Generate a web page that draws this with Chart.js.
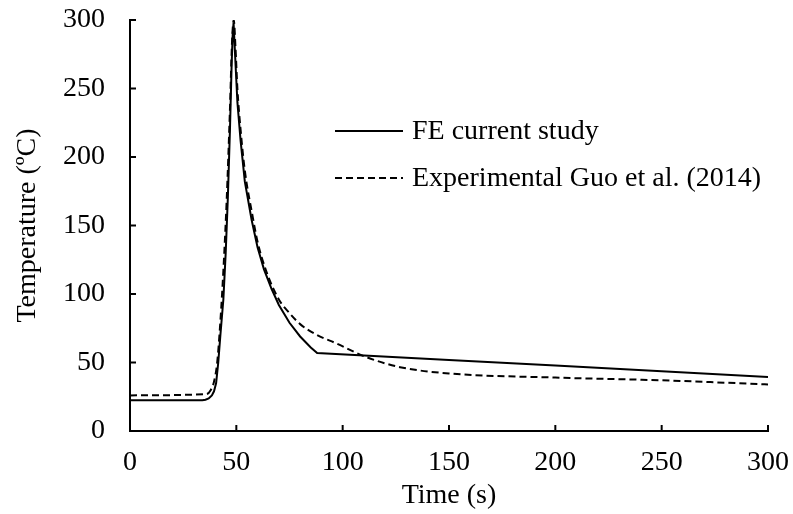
<!DOCTYPE html>
<html>
<head>
<meta charset="utf-8">
<script src="https://cdn.jsdelivr.net/npm/chart.js@4.4.1/dist/chart.umd.min.js"></script>
<style>
  html, body { margin: 0; padding: 0; background: #fff; }
  #wrap { width: 793px; height: 514px; }
</style>
</head>
<body>
<div id="wrap"><canvas id="chart" width="793" height="514"></canvas></div>
<script>
// FE current study
const feTime = [0, 34, 35.5, 37, 38.5, 39.5, 40.5, 41.5, 42.5, 43.9, 45, 46, 47, 47.8, 48.3, 48.7, 49.4, 50.5, 52, 54, 57.2, 60, 63, 66.5, 70, 75, 80, 85, 88, 150, 200, 250, 300];
const feTemp = [22.5, 22.5, 22.8, 23.8, 26, 29, 35, 50, 70, 96, 130, 170, 220, 268, 290, 298, 275, 240, 212, 182, 154, 134, 118, 104, 92, 79, 69, 61, 57, 51.9, 47.8, 43.6, 39.5];

// Experimental Guo et al. (2014)
const expTime = [0, 36, 38, 39.5, 41, 42.5, 44, 45.5, 47, 48, 48.8, 49.6, 50.5, 52, 54, 57.5, 60, 64, 70, 75, 80, 88, 97, 111, 127, 150, 200, 250, 300];
const expTemp = [26, 27, 30, 36, 50, 80, 120, 170, 235, 285, 300, 280, 250, 220, 190, 158, 138, 117, 96, 86, 78, 70, 64, 54, 46.6, 42, 39, 37, 34];

const xTicks = [0, 50, 100, 150, 200, 250, 300];
const yTicks = [0, 50, 100, 150, 200, 250, 300];

const FONT = 'Liberation Serif, Times New Roman, serif';
const FSIZE = 28;

const toPoints = (xs, ys) => xs.map((x, i) => ({ x, y: ys[i] }));

// ticks pointing into the plot, like the original
const innerTicks = {
  id: 'innerTicks',
  afterDraw(chart) {
    const { ctx, chartArea, scales } = chart;
    ctx.save();
    ctx.strokeStyle = '#000';
    ctx.lineWidth = 2;
    xTicks.forEach(v => {
      const px = scales.x.getPixelForValue(v);
      ctx.beginPath();
      ctx.moveTo(px, chartArea.bottom);
      ctx.lineTo(px, chartArea.bottom - 6);
      ctx.stroke();
    });
    yTicks.forEach(v => {
      const py = scales.y.getPixelForValue(v);
      ctx.beginPath();
      ctx.moveTo(chartArea.left, py);
      ctx.lineTo(chartArea.left + 6, py);
      ctx.stroke();
    });
    ctx.restore();
  }
};

// legend drawn inside the plot
const insideLegend = {
  id: 'insideLegend',
  afterDraw(chart) {
    const { ctx } = chart;
    const rows = [131, 178];
    ctx.save();
    ctx.font = FSIZE + 'px ' + FONT;
    ctx.fillStyle = '#000';
    ctx.textBaseline = 'middle';
    chart.data.datasets.forEach((ds, i) => {
      const y = rows[i];
      ctx.strokeStyle = ds.borderColor;
      ctx.lineWidth = ds.borderWidth;
      ctx.setLineDash(ds.borderDash || []);
      ctx.beginPath();
      ctx.moveTo(335, y);
      ctx.lineTo(403, y);
      ctx.stroke();
      ctx.setLineDash([]);
      ctx.fillText(ds.label, 412, y + 1);
    });
    ctx.restore();
  }
};

new Chart(document.getElementById('chart'), {
  type: 'scatter',
  data: {
    datasets: [
      {
        label: 'FE current study',
        data: toPoints(feTime, feTemp),
        showLine: true,
        borderColor: '#000',
        borderWidth: 2,
        pointRadius: 0,
        tension: 0
      },
      {
        label: 'Experimental Guo et al. (2014)',
        data: toPoints(expTime, expTemp),
        showLine: true,
        borderColor: '#000',
        borderWidth: 2,
        borderDash: [7, 4],
        pointRadius: 0,
        cubicInterpolationMode: 'monotone'
      }
    ]
  },
  options: {
    responsive: false,
    animation: false,
    layout: { autoPadding: false, padding: { top: 20, right: 25, left: 0, bottom: 0 } },
    plugins: { legend: { display: false }, tooltip: { enabled: false } },
    scales: {
      x: {
        type: 'linear',
        min: 0,
        max: 300,
        afterBuildTicks: s => { s.ticks = xTicks.map(v => ({ value: v })); },
        afterFit: s => { s.height = 83; s.paddingLeft = 0; s.paddingRight = 0; },
        grid: { display: false, drawTicks: false },
        border: { display: true, color: '#000', width: 2 },
        ticks: { color: '#000', padding: 15, font: { family: FONT, size: FSIZE } },
        title: { display: true, text: 'Time (s)', color: '#000', padding: { top: 0, bottom: 2 }, font: { family: FONT, size: FSIZE } }
      },
      y: {
        min: 0,
        max: 300,
        afterBuildTicks: s => { s.ticks = yTicks.map(v => ({ value: v })); },
        afterFit: s => { s.width = 130; s.paddingTop = 0; s.paddingBottom = 0; },
        grid: { display: false, drawTicks: false },
        border: { display: true, color: '#000', width: 2 },
        ticks: { color: '#000', padding: 25, font: { family: FONT, size: FSIZE } },
        title: { display: true, text: 'Temperature (ºC)', color: '#000', padding: { top: 11, bottom: 0 }, font: { family: FONT, size: FSIZE } }
      }
    }
  },
  plugins: [innerTicks, insideLegend]
});
</script>
</body>
</html>
